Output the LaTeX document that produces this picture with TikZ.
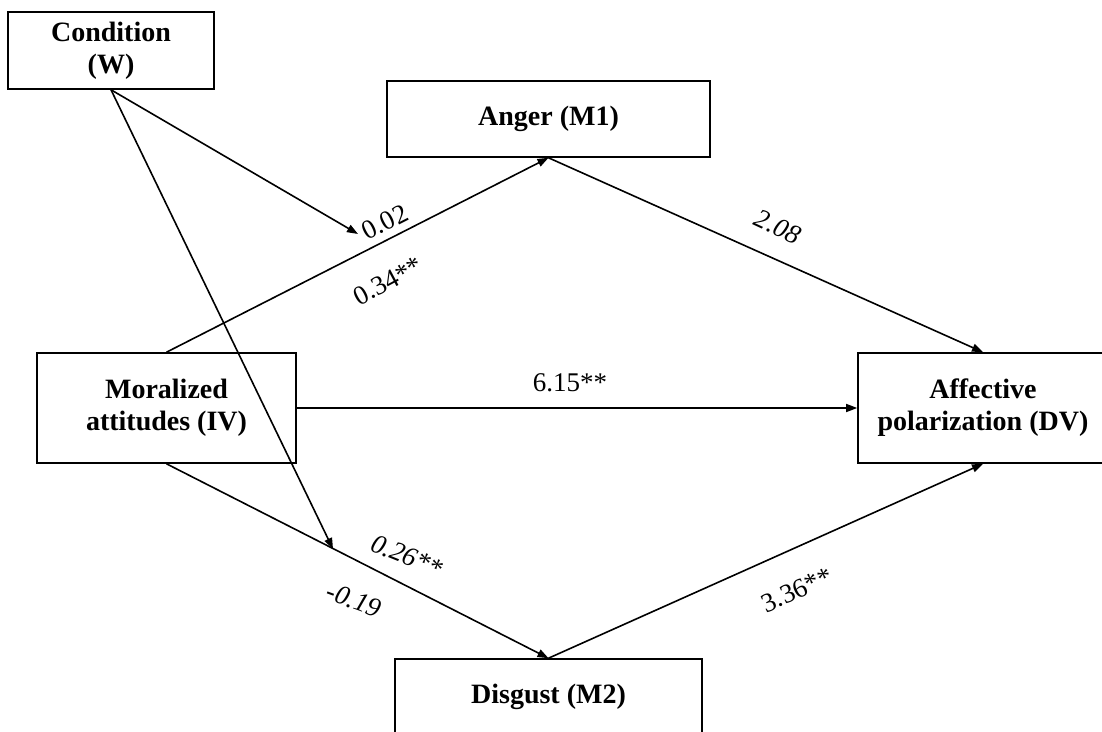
\documentclass[tikz,border=0pt]{standalone}
\usepackage{fontspec}
\setmainfont{Liberation Serif}
\usetikzlibrary{arrows.meta, positioning}

\begin{document}
\begin{tikzpicture}[x=0.5pt, y=-0.5pt,
  every node/.style={inner sep=2pt},
  var/.style={draw, line width=0.8pt, align=center, inner sep=0pt,
              font=\fontsize{14}{16}\selectfont\bfseries},
  coef/.style={font=\fontsize{13.5}{15}\selectfont},
  icoef/.style={font=\fontsize{13.5}{15}\selectfont\itshape},
  arrow/.style={-{Triangle[length=5.5pt, width=4pt]}, line width=0.8pt}]
\useasboundingbox (0,0) rectangle (1102,732);
\clip (0,0) rectangle (1102,732);
% variables
\node[var, minimum width=103pt, minimum height=38.5pt] (cond) at (111,50.5)
  {Condition\\(W)};
\node[var, minimum width=161.5pt, minimum height=38pt] (anger) at (548.5,119)
  {Anger (M1)};
\node[var, minimum width=129.5pt, minimum height=55pt] (moral) at (166.5,408)
  {Moralized\\attitudes (IV)};
\node[var, minimum width=125pt, minimum height=55pt] (affect) at (983,408)
  {Affective\\polarization (DV)};
\node[var, minimum width=153.5pt, minimum height=38pt] (disgust) at (548.5,697)
  {Disgust (M2)};
% moderation end points
\coordinate (tipA) at (358,234);
\coordinate (tipD) at (333,549);
% paths
\draw[arrow] (moral.north) -- (anger.south);
\draw[arrow] (anger.south) -- (affect.north);
\draw[arrow] (moral.east) -- (affect.west);
\draw[arrow] (moral.south) -- (disgust.north);
\draw[arrow] (disgust.north) -- (affect.south);
\draw[arrow] (cond.south) -- (tipA);
\draw[arrow] (cond.south) -- (tipD);
% coefficients
\node[coef, rotate=27] (bWA) at (385,222) {0.02};
\node[coef, rotate=28] (bA) at (388,281) {0.34**};
\node[icoef, rotate=-25] (bAY) at (778,227) {2.08};
\node[coef] (bXY) at (570,383) {6.15**};
\node[icoef, rotate=-22] (bD) at (407,556) {0.26**};
\node[icoef, rotate=-20] (bWD) at (354,600) {-0.19};
\node[coef, rotate=24] (bDY) at (797,590) {3.36**};
\end{tikzpicture}
\end{document}
